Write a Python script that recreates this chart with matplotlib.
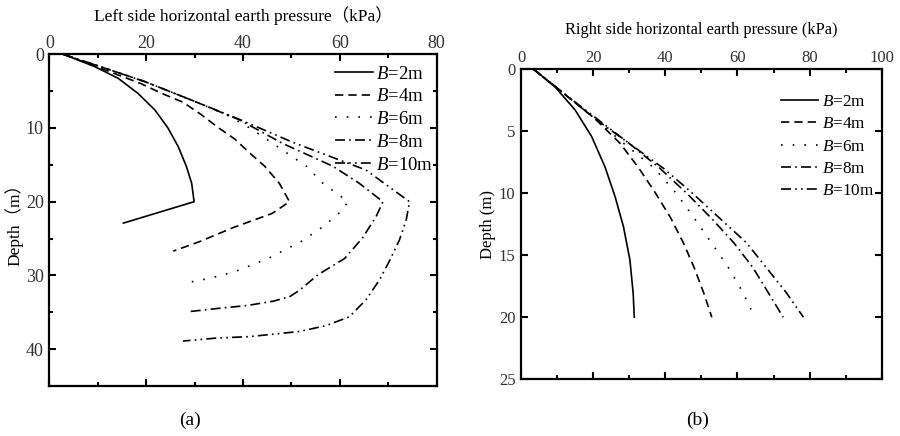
import matplotlib
matplotlib.use("Agg")
import matplotlib.pyplot as plt
from matplotlib.ticker import MultipleLocator

plt.rcParams['font.family'] = ['Liberation Serif', 'Noto Sans CJK SC', 'DejaVu Sans']
plt.rcParams['mathtext.fontset'] = 'custom'
plt.rcParams['mathtext.rm'] = 'Liberation Serif'
plt.rcParams['mathtext.it'] = 'Liberation Serif:italic'

labels = ["$B$=2m", "$B$=4m", "$B$=6m", "$B$=8m", "$B$=10m"]

# ---- Left side (a): pressure values vs depth
left_b2_p = [2.9, 9.4, 14.2, 18.3, 21.8, 24.5, 26.6, 28.3, 29.4, 29.9, 15.3]
left_b2_d = [0, 1.68, 3.25, 5.3, 7.55, 10.0, 12.5, 15.2, 17.5, 20.0, 22.9]
left_b4_p = [2.9, 11, 19, 23.2, 27.6, 31.4, 35, 38.3, 41.4, 44.5, 47.5, 49.6, 46, 38, 31.1, 25.6]
left_b4_d = [0, 2, 4, 5.3, 6.5, 8.2, 10, 11.5, 13.4, 15.2, 17.5, 20, 21.6, 23.5, 25.4, 26.7]
left_b6_p = [2.9, 12, 19.7, 29.3, 36.6, 41.4, 48.2, 53.1, 56.5, 61.7, 60.3, 56.5, 52.0, 45.2, 38.3, 33.1, 28.3]
left_b6_d = [0, 2, 3.7, 6.2, 8.2, 10, 13, 15.2, 17.5, 20, 21.3, 23.4, 25.4, 27.7, 29.5, 30.4, 31.0]
left_b8_p = [2.9, 12, 19.7, 29.3, 39.3, 48.2, 58.6, 64, 68.9, 67.5, 64.7, 61.0, 55.5, 51.7, 49.6, 46.2, 40.7, 35.9, 29.0]
left_b8_d = [0, 2, 3.7, 6.2, 8.9, 12.1, 15.2, 17.5, 20, 22, 24.9, 27.7, 29.9, 32, 32.9, 33.5, 34.1, 34.4, 34.9]
left_b10_p = [2.9, 12, 19.7, 29.3, 39.5, 50.5, 65.4, 70.2, 74.4, 73.7, 72.3, 70.2, 68.2, 65.4, 62, 57.2, 51.7, 41.4, 34.5, 27.6]
left_b10_d = [0, 2, 3.7, 6.2, 8.9, 12, 15.7, 18, 20, 22.5, 25.2, 28.1, 30.6, 33.3, 35.6, 36.8, 37.6, 38.3, 38.5, 38.9]

# ---- Right side (b)
right_b2_d = [0, 1.43, 3.3, 5.45, 7.9, 10.3, 12.7, 15.4, 18.1, 20]
right_b2 = [3.4, 9.4, 15, 19.6, 23.3, 26.1, 28.4, 30.2, 31.1, 31.4]
right_d = [0, 2, 4, 6, 8, 10, 12, 14, 16, 18, 20]
right_b4 = [3.4, 12, 20.5, 27.5, 32.7, 37.3, 41.5, 45, 48, 50.6, 52.9]
right_b6 = [3.4, 12, 20.5, 28.5, 37, 43, 48, 52.8, 57.5, 61.5, 64.8]
right_b8 = [3.4, 12, 20.5, 30, 38.5, 45.9, 52.7, 59, 64.3, 68.5, 72.7]
right_b10 = [3.4, 12, 21, 30, 39.5, 47.5, 55, 62.5, 68, 73.5, 78.3]

LW = 1.2
styles = [
    dict(linestyle='-'),
    dict(linestyle=(0, (5, 3))),
    dict(linestyle=(0, (1, 6))),
    dict(linestyle=(0, (6, 2.5, 1, 2.5))),
    dict(linestyle=(0, (6, 2.5, 1, 2.5, 1, 2.5))),
]

fig = plt.figure(figsize=(9, 4.36), dpi=100)
ax1 = fig.add_axes([0.0548, 0.1147, 0.4304, 0.7608])
ax2 = fig.add_axes([0.5789, 0.130, 0.4008, 0.7117])

left_series = [(left_b2_p, left_b2_d), (left_b4_p, left_b4_d), (left_b6_p, left_b6_d),
               (left_b8_p, left_b8_d), (left_b10_p, left_b10_d)]
for (p, d), st, lab in zip(left_series, styles, labels):
    ax1.plot(p, d, color='black', lw=LW, label=lab, **st)

right_series = [(right_b2, right_b2_d), (right_b4, right_d), (right_b6, right_d),
                (right_b8, right_d), (right_b10, right_d)]
for (p, d), st, lab in zip(right_series, styles, labels):
    ax2.plot(p, d, color='black', lw=LW, label=lab, **st)

def style_axes(ax, xmax, ymax, xmaj, xmin, ymaj, ymin, fs):
    ax.set_xlim(0, xmax)
    ax.set_ylim(ymax, 0)
    ax.xaxis.set_major_locator(MultipleLocator(xmaj))
    ax.xaxis.set_minor_locator(MultipleLocator(xmin))
    ax.yaxis.set_major_locator(MultipleLocator(ymaj))
    if ymin:
        ax.yaxis.set_minor_locator(MultipleLocator(ymin))
    ax.xaxis.tick_top()
    ax.tick_params(which='both', direction='in', top=True, bottom=True, left=True, right=True,
                   labeltop=True, labelbottom=False, width=1.5, labelsize=fs, colors='black')
    ax.tick_params(which='major', length=5)
    ax.tick_params(which='minor', length=3)
    ax.tick_params(axis='x', pad=2)
    ax.tick_params(axis='y', pad=4)
    for s in ax.spines.values():
        s.set_linewidth(1.6)
    for lab in ax.get_xticklabels() + ax.get_yticklabels():
        lab.set_color('#333333')

style_axes(ax1, 80, 45, 20, 10, 10, 5, 13)
style_axes(ax2, 100, 25, 20, 10, 5, None, 12)

ax1.set_xlabel("Left side horizontal earth pressure（kPa）", fontsize=12.5, labelpad=10)
ax1.xaxis.set_label_position('top')
ax1.set_ylabel("Depth（m）", fontsize=12.5, labelpad=2)
ax2.set_xlabel("Right side horizontal earth pressure (kPa)", fontsize=11.8, labelpad=12)
ax2.xaxis.set_label_position('top')
ax2.set_ylabel("Depth (m)", fontsize=12, labelpad=2)

leg1 = ax1.legend(loc='upper right', frameon=False, fontsize=13.5, handlelength=2.0,
                  handletextpad=0.2, labelspacing=0.3, borderpad=0.2,
                  bbox_to_anchor=(1.026, 1.006))
leg2 = ax2.legend(loc='upper right', frameon=False, fontsize=12.3, handlelength=2.2,
                  handletextpad=0.2, labelspacing=0.36, borderpad=0.2,
                  bbox_to_anchor=(1.012, 0.957))

fig.text(190 / 900, 1 - 420 / 436, "(a)", fontsize=14, ha='center', va='center')
fig.text(698 / 900, 1 - 420 / 436, "(b)", fontsize=14, ha='center', va='center')

fig.savefig("out.png", dpi=100)
